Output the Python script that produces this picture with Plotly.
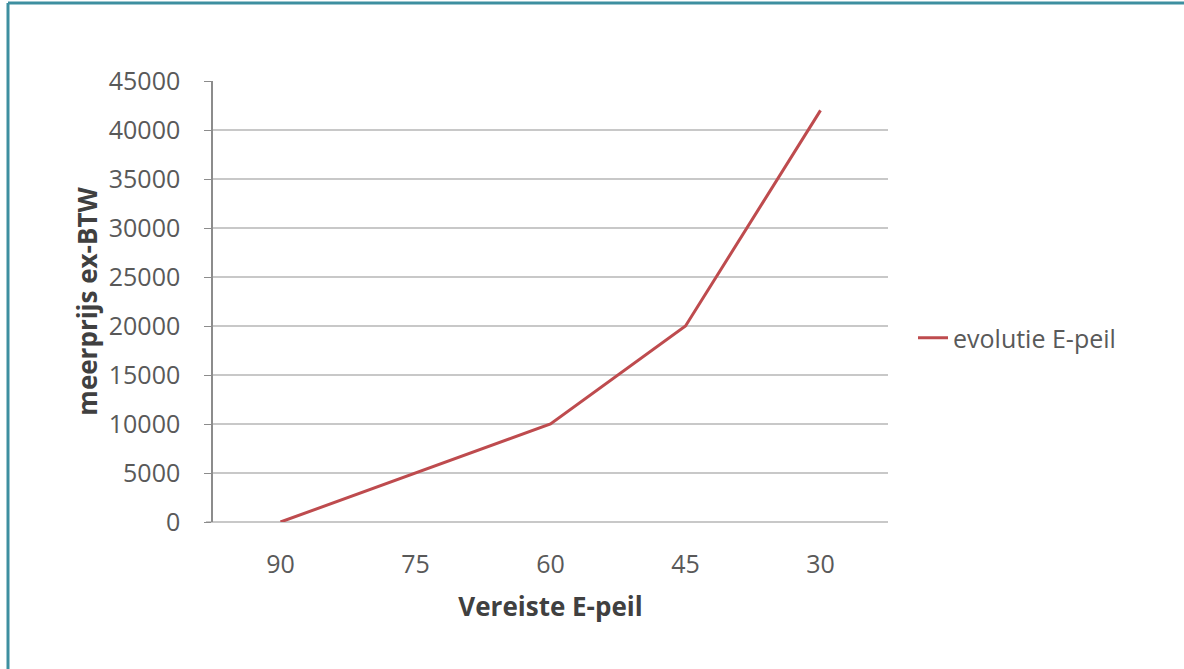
import plotly.graph_objects as go

categories = ["90", "75", "60", "45", "30"]
values = [0, 5000, 10000, 20000, 42000]
y_ticks = [0, 5000, 10000, 15000, 20000, 25000, 30000, 35000, 40000, 45000]
series_name = "evolutie E-peil"

W, H = 1184, 669
L, R, T, B = 213, 296, 81, 147
PW, PH = W - L - R, H - T - B

fig = go.Figure()
fig.add_trace(go.Scatter(
    x=categories, y=values, mode="lines", name=series_name,
    line=dict(color="#BE4B4E", width=3),
    showlegend=True,
))

font_family = "Open Sans, Liberation Sans, sans-serif"
tick_col = "#595959"
title_col = "#404040"

fig.update_layout(
    width=W, height=H,
    margin=dict(l=L, r=R, t=T, b=B, pad=0),
    paper_bgcolor="white", plot_bgcolor="white",
    font=dict(family=font_family, color=tick_col, size=25),
    showlegend=True,
    legend=dict(x=(913 - L) / PW, y=(522 - 338) / PH, xanchor="left", yanchor="middle",
                font=dict(size=25, color=tick_col),
                bgcolor="rgba(0,0,0,0)", itemwidth=30),
    xaxis=dict(
        type="category", range=[-0.5, 4.5],
        showgrid=False, showline=False, zeroline=False,
        ticks="", tickfont=dict(size=25, color=tick_col),
        ticklabelstandoff=25,
        title=dict(text="<b>Vereiste E-peil</b>", font=dict(size=26, color=title_col), standoff=18),
    ),
    yaxis=dict(
        range=[0, 45000], tickvals=y_ticks, ticktext=[str(v) for v in y_ticks],
        showgrid=True, gridcolor="#C8C8C8", gridwidth=2,
        showline=True, linecolor="#8C8C8C", linewidth=1.5,
        zeroline=False,
        ticks="outside", ticklen=7, tickcolor="#8C8C8C",
        tickfont=dict(size=25, color=tick_col),
        ticklabelstandoff=19,
        title=dict(text="<b>meerprijs ex-BTW</b>", font=dict(size=26, color=title_col), standoff=4),
    ),
    shapes=[
        dict(type="line", xref="paper", yref="paper", x0=-(L - 8) / PW, x1=1 + R / PW,
             y0=1 + (T - 3) / PH, y1=1 + (T - 3) / PH,
             line=dict(color="#3E8FA0", width=3)),
        dict(type="line", xref="paper", yref="paper", x0=-(L - 8) / PW, x1=-(L - 8) / PW,
             y0=1 + (T - 3) / PH, y1=-B / PH,
             line=dict(color="#3E8FA0", width=3)),
        dict(type="line", xref="paper", yref="paper", x0=-7 / PW, x1=1, y0=0, y1=0,
             line=dict(color="#C8C8C8", width=2), layer="below"),
    ],
)

fig.write_html("out.html", config={"displayModeBar": False},
               post_script="document.body.style.margin='0px';")
